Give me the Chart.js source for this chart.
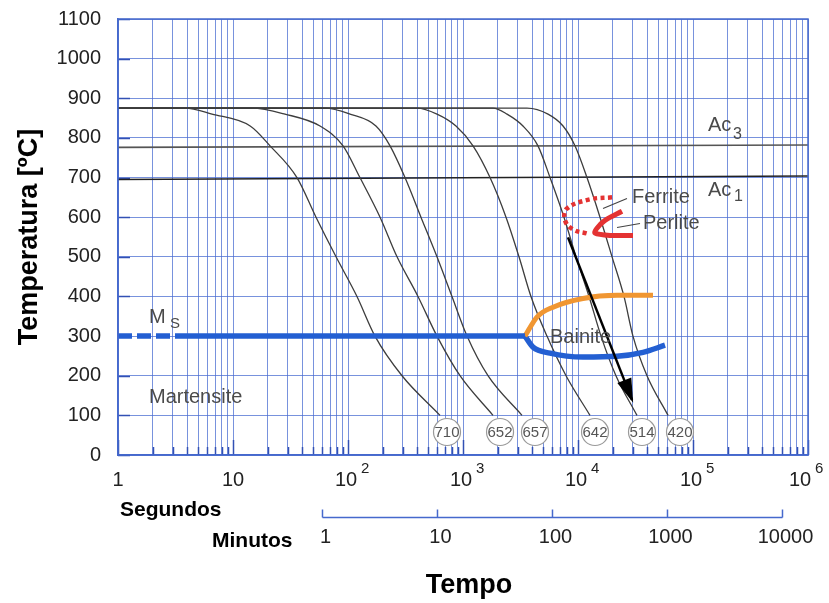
<!DOCTYPE html>
<html>
<head>
<meta charset="utf-8">
<script src="https://cdn.jsdelivr.net/npm/chart.js@4.4.1/dist/chart.umd.min.js"></script>
<style>
html,body{margin:0;padding:0;background:#fff;}
#wrap{width:829px;height:603px;position:relative;}
</style>
</head>
<body>
<div id="wrap"><canvas id="c" width="829" height="603"></canvas></div>
<script>
// ---------------- data ----------------
const xDecadeTicks = [1, 10, 100, 1000, 10000, 100000, 1000000];
const xTickBase = ['1', '10', '10', '10', '10', '10', '10'];
const xTickExp = ['', '', '2', '3', '4', '5', '6'];
const yTicks = [0, 100, 200, 300, 400, 500, 600, 700, 800, 900, 1000, 1100];
const minuteTicks = [1, 10, 100, 1000, 10000];
const minuteLabels = ['1', '10', '100', '1000', '10000'];

// cooling curves: [time s, temperature °C]
const curve710 = [[1,875],[3.83,875],[6.57,860],[14.1,830],[21.0,780],[36.0,700],[52.7,600],[78.7,500],[119.7,400],[171.6,300],[295,200],[631,100]];
const curve652 = [[1,875],[14.6,875],[28.3,860],[57.1,830],[90.5,780],[127,700],[190,600],[267,500],[406,400],[594,300],[942,200],[1823,100]];
const curve657 = [[1,875],[63.1,875],[104,860],[175,830],[232,780],[313,700],[431,600],[594,500],[802,400],[1084,300],[1649,200],[3258,100]];
const curve642 = [[1,875],[398,875],[594,860],[869,830],[1222,780],[1718,700],[2366,600],[3069,500],[3899,400],[5372,300],[7870,200],[12710,100]];
const curve514 = [[1,875],[1823,875],[2414,860],[3323,830],[4487,780],[5711,700],[7551,600],[9608,500],[12470,400],[15850,300],[21380,200],[32570,100]];
const curve420 = [[1,875],[3603,875],[5485,860],[7413,830],[9412,780],[11970,700],[15530,600],[19770,500],[25120,400],[30060,300],[39810,200],[60670,100]];

const hardnessLabels = ['710', '652', '657', '642', '514', '420'];
const hardnessTimes = [726, 2099, 4227, 14060, 36020, 77090];
const hardnessTemp = 58;

const ac3Line = [[1,776],[1000000,782]];
const ac1Line = [[1,695],[1000000,704]];
const msDashed = [[1,300],[4.06,300]];
const msSolid = [[4.06,300],[3459,300]];
const bainiteStart = [[3459,300],[4397,348],[6067,373],[11040,395],[21850,403],[44870,403]];
const bainiteEnd = [[3459,300],[4060,272],[5711,257],[11040,247],[21850,249],[36760,259],[57100,277]];
const ferriteStart = [[19770,650],[12710,645],[8020,622],[7710,592],[9050,569],[11970,559]];
const perliteStart = [[24150,615],[17170,592],[14620,572],[14060,560],[18970,554],[30060,554]];
const coolingArrow = [[8185,549],[29500,139]];
const ferriteLeader = [[16500,622],[26670,647]];
const perliteLeader = [[21850,574],[34600,584]];

// text annotations (label, time, temperature, font size)
const annotationTexts = [
  ['M', 1.86, 346, 20],
  ['S', 2.83, 330, 15],
  ['Martensite', 1.86, 146, 20],
  ['Bainite', 5710, 297, 20],
  ['Ac', 135000, 831, 20],
  ['3', 222800, 808, 16],
  ['Ac', 135000, 667, 20],
  ['1', 227300, 652, 16],
  ['Ferrite', 29500, 650, 20],
  ['Perlite', 36740, 584, 20]
];

// ---------------- styles ----------------
const FONT = '"Liberation Sans", Arial, Helvetica, sans-serif';
const GRID = 'rgba(75,110,210,0.75)';
const FRAME = 'rgb(70,105,205)';
const TICKC = 'rgb(50,80,180)';
const CURVE = '#3d3d3d';
const BLUE = 'rgb(35,95,210)';
const ORANGE = 'rgb(240,150,50)';
const RED = 'rgb(228,50,50)';

const pts = arr => arr.map(p => ({x: p[0], y: p[1]}));
const curveDs = (arr) => ({data: pts(arr), borderColor: CURVE, borderWidth: 1.3, cubicInterpolationMode: 'monotone', pointRadius: 0, fill: false, order: 5});

const datasets = [
  {data: hardnessTimes.map(t => ({x: t, y: hardnessTemp})), showLine: false, pointRadius: 13.5, pointHoverRadius: 13.5,
   pointBackgroundColor: '#fff', pointBorderColor: '#9a9a9a', pointBorderWidth: 1.2, order: 0},
  curveDs(curve710), curveDs(curve652), curveDs(curve657), curveDs(curve642), curveDs(curve514), curveDs(curve420),
  {data: pts(ac3Line), borderColor: '#555', borderWidth: 1.6, pointRadius: 0, order: 6},
  {data: pts(ac1Line), borderColor: '#222', borderWidth: 1.6, pointRadius: 0, order: 6},
  {data: pts(msDashed), borderColor: BLUE, borderWidth: 5.5, borderDash: [14, 5], pointRadius: 0, order: 4},
  {data: pts(msSolid), borderColor: BLUE, borderWidth: 5.5, pointRadius: 0, order: 4},
  {data: pts(bainiteStart), borderColor: ORANGE, borderWidth: 5, cubicInterpolationMode: 'monotone', pointRadius: 0, order: 4},
  {data: pts(bainiteEnd), borderColor: BLUE, borderWidth: 5.5, cubicInterpolationMode: 'monotone', pointRadius: 0, order: 4},
  {data: pts(ferriteStart), borderColor: RED, borderWidth: 4.5, borderDash: [4, 3.5], tension: 0.4, pointRadius: 0, order: 3},
  {data: pts(perliteStart), borderColor: RED, borderWidth: 5, tension: 0.3, pointRadius: 0, order: 3},
  {data: pts(coolingArrow), borderColor: '#000', borderWidth: 2.5, pointRadius: 0, order: 1},
  {data: pts(ferriteLeader), borderColor: '#444', borderWidth: 1.2, pointRadius: 0, order: 2},
  {data: pts(perliteLeader), borderColor: '#444', borderWidth: 1.2, pointRadius: 0, order: 2}
];

const overlay = {
  id: 'overlay',
  beforeDatasetsDraw(chart) {
    const {ctx, chartArea: a, scales: {x, y}} = chart;
    ctx.save();
    ctx.strokeStyle = TICKC;
    ctx.lineWidth = 1.5;
    yTicks.forEach(v => {
      const py = Math.round(y.getPixelForValue(v)) + 0.5;
      ctx.beginPath(); ctx.moveTo(a.left, py); ctx.lineTo(a.left + 12, py); ctx.stroke();
    });
    x.ticks.forEach(t => {
      const px = Math.round(x.getPixelForValue(t.value)) + 0.5;
      const len = xDecadeTicks.includes(t.value) ? 15 : 8;
      ctx.beginPath(); ctx.moveTo(px, a.bottom); ctx.lineTo(px, a.bottom - len); ctx.stroke();
    });
    ctx.restore();
  },
  afterDatasetsDraw(chart) {
    const {ctx, scales: {x, y}} = chart;
    ctx.save();
    // arrowhead
    const p0 = {x: x.getPixelForValue(coolingArrow[0][0]), y: y.getPixelForValue(coolingArrow[0][1])};
    const p1 = {x: x.getPixelForValue(coolingArrow[1][0]), y: y.getPixelForValue(coolingArrow[1][1])};
    const ang = Math.atan2(p1.y - p0.y, p1.x - p0.x);
    const L = 21, W = 7.5;
    ctx.fillStyle = '#000';
    ctx.beginPath();
    ctx.moveTo(p1.x + 3 * Math.cos(ang), p1.y + 3 * Math.sin(ang));
    ctx.lineTo(p1.x - L * Math.cos(ang) + W * Math.sin(ang), p1.y - L * Math.sin(ang) - W * Math.cos(ang));
    ctx.lineTo(p1.x - L * Math.cos(ang) - W * Math.sin(ang), p1.y - L * Math.sin(ang) + W * Math.cos(ang));
    ctx.closePath(); ctx.fill();
    // hardness numbers
    const meta = chart.getDatasetMeta(0);
    ctx.fillStyle = '#555';
    ctx.font = '15px ' + FONT;
    ctx.textAlign = 'center'; ctx.textBaseline = 'middle';
    meta.data.forEach((el, i) => ctx.fillText(hardnessLabels[i], el.x, el.y + 1));
    // annotations
    ctx.textAlign = 'left';
    annotationTexts.forEach(([t, tx, ty, sz]) => {
      ctx.font = sz + 'px ' + FONT;
      ctx.fillStyle = '#4a4a4a';
      ctx.fillText(t, x.getPixelForValue(tx), y.getPixelForValue(ty));
    });
    ctx.restore();
  },
  afterDraw(chart) {
    const {ctx, chartArea: a, scales: {x}} = chart;
    ctx.save();
    // frame
    ctx.strokeStyle = FRAME; ctx.lineWidth = 1.5;
    ctx.strokeRect(a.left, a.top, a.right - a.left, a.bottom - a.top);
    // x tick labels (powers of ten with raised exponents)
    ctx.fillStyle = '#222';
    ctx.textBaseline = 'alphabetic';
    xDecadeTicks.forEach((v, i) => {
      const p = x.getPixelForValue(v);
      ctx.font = '20px ' + FONT;
      const w = ctx.measureText(xTickBase[i]).width;
      let left = p - w / 2 - (xTickExp[i] ? 2 : 0);
      if (i === xDecadeTicks.length - 1) left -= 6;
      ctx.textAlign = 'left';
      ctx.fillText(xTickBase[i], left, a.bottom + 31);
      if (xTickExp[i]) {
        ctx.font = '15px ' + FONT;
        ctx.fillText(xTickExp[i], left + w + 4, a.bottom + 18);
      }
    });
    // minutes axis
    const px = minuteTicks.map(m => x.getPixelForValue(m * 60));
    const ly = 517.5;
    ctx.strokeStyle = FRAME; ctx.lineWidth = 1.5;
    ctx.beginPath(); ctx.moveTo(px[0], ly); ctx.lineTo(px[px.length - 1], ly); ctx.stroke();
    px.forEach(p => { ctx.beginPath(); ctx.moveTo(p, ly); ctx.lineTo(p, ly - 8); ctx.stroke(); });
    ctx.fillStyle = '#222';
    ctx.font = '20px ' + FONT;
    ctx.textAlign = 'center'; ctx.textBaseline = 'middle';
    px.forEach((p, i) => ctx.fillText(minuteLabels[i], p + 3, 537));
    // titles
    ctx.fillStyle = '#000';
    ctx.font = 'bold 21px ' + FONT;
    ctx.textAlign = 'left';
    ctx.fillText('Segundos', 120, 510);
    ctx.fillText('Minutos', 212, 541);
    ctx.font = 'bold 27px ' + FONT;
    ctx.textAlign = 'center';
    ctx.fillText('Tempo', 469, 586);
    ctx.restore();
  }
};

new Chart(document.getElementById('c'), {
  type: 'line',
  data: {datasets},
  options: {
    responsive: false,
    animation: false,
    devicePixelRatio: 1,
    layout: {padding: {left: 0, right: 21, top: 19, bottom: 0}},
    plugins: {legend: {display: false}, tooltip: {enabled: false}},
    events: [],
    scales: {
      x: {
        type: 'logarithmic', min: 1, max: 1000000, position: 'bottom',
        afterBuildTicks(scale) {
          const t = [];
          for (let e = 0; e < 6; e++) for (let s = 1; s < 10; s++) t.push({value: s * Math.pow(10, e)});
          t.push({value: 1000000});
          scale.ticks = t;
        },
        afterFit(scale) { scale.height = 148; scale.paddingLeft = 0; scale.paddingRight = 0; },
        ticks: {display: false, autoSkip: false, maxRotation: 0, minRotation: 0},
        grid: {color: GRID, lineWidth: 1, drawTicks: false},
        border: {color: FRAME, width: 1.5}
      },
      y: {
        min: 0, max: 1100,
        afterBuildTicks(scale) { scale.ticks = yTicks.map(v => ({value: v})); },
        afterFit(scale) { scale.width = 118; scale.paddingTop = 0; scale.paddingBottom = 0; },
        ticks: {padding: 17, font: {family: FONT, size: 20}, color: '#222', callback: v => String(v)},
        grid: {color: GRID, lineWidth: 1, drawTicks: false},
        border: {color: FRAME, width: 1.5},
        title: {display: true, text: 'Temperatura [ºC]', color: '#000',
          font: {family: FONT, size: 27, weight: 'bold'}, padding: {top: 13, bottom: 0}}
      }
    }
  },
  plugins: [overlay]
});
</script>
</body>
</html>
